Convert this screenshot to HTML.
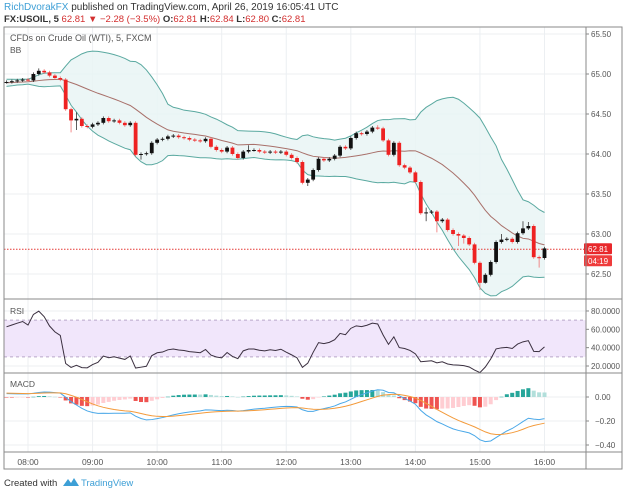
<!DOCTYPE html>
<html><head><meta charset="utf-8">
<style>
html,body{margin:0;padding:0;background:#fff;width:624px;height:493px;overflow:hidden;font-family:"Liberation Sans",sans-serif}
svg{position:absolute;left:0;top:0}
text{font-family:"Liberation Sans",sans-serif}
</style></head>
<body>
<svg id="c" width="624" height="493" viewBox="0 0 624 493">
  <text x="4" y="10" font-size="10"><tspan fill="#3d9fd6">RichDvorakFX</tspan><tspan fill="#333"> published on TradingView.com, April 26, 2019 16:05:41 UTC</tspan></text>
  <text x="4" y="22" font-size="9.5" fill="#333"><tspan font-weight="bold">FX:USOIL, 5</tspan><tspan fill="#d32f2f"> 62.81 ▼ −2.28 (−3.5%)</tspan><tspan font-weight="bold"> O:</tspan><tspan fill="#d32f2f">62.81</tspan><tspan font-weight="bold"> H:</tspan><tspan fill="#d32f2f">62.84</tspan><tspan font-weight="bold"> L:</tspan><tspan fill="#d32f2f">62.80</tspan><tspan font-weight="bold"> C:</tspan><tspan fill="#d32f2f">62.81</tspan></text>
  <defs>
    <clipPath id="mainClip"><rect x="4" y="27" width="582" height="272"/></clipPath>
    <clipPath id="rsiClip"><rect x="4" y="299" width="582" height="74"/></clipPath>
    <clipPath id="macdClip"><rect x="4" y="373" width="582" height="79"/></clipPath>
  </defs>
  <g id="grid"></g>
  <g id="main" clip-path="url(#mainClip)"></g>
  <g id="rsi" clip-path="url(#rsiClip)"></g>
  <g id="macd" clip-path="url(#macdClip)"></g>
  <g id="axes"></g>
  <rect x="4" y="27" width="618" height="442" fill="none" stroke="#8a8a8a" stroke-width="1"/>
  <line x1="586" y1="27" x2="586" y2="469" stroke="#8a8a8a"/>
  <line x1="4" y1="299" x2="622" y2="299" stroke="#8a8a8a"/>
  <line x1="4" y1="373" x2="622" y2="373" stroke="#8a8a8a"/>
  <line x1="4" y1="452" x2="622" y2="452" stroke="#8a8a8a"/>
  <text x="10" y="41" font-size="9" fill="#555">CFDs on Crude Oil (WTI), 5, FXCM</text>
  <text x="10" y="53" font-size="8.5" fill="#555">BB</text>
  <text x="10" y="314" font-size="8.5" fill="#555">RSI</text>
  <text x="10" y="387" font-size="8.5" fill="#555">MACD</text>
  <text x="4" y="486" font-size="9.5" fill="#333">Created with</text>
  <path d="M63 486 L68 479 L71 483 L74 478 L79 486 Z" fill="#3d9fd6"/>
  <text x="81" y="486" font-size="9.5" fill="#3d9fd6">TradingView</text>
</svg>
<script>
// ---- data ----
const warmup = [64.74,64.76,64.75,64.78,64.77,64.80,64.79,64.82,64.81,64.84,64.83,64.85,64.84,64.87,64.86,64.88,64.87,64.89,64.88,64.90,64.89,64.91,64.90,64.92,64.91,64.90,64.91,64.92,64.91,64.90];
const closes = [64.90,64.91,64.92,64.93,64.92,65.00,65.04,65.02,64.98,64.95,64.93,64.56,64.42,64.44,64.35,64.34,64.37,64.39,64.45,64.41,
64.42,64.39,64.36,64.39,63.99,64.00,64.01,64.14,64.18,64.19,64.22,64.23,64.21,64.20,64.18,64.17,64.16,64.19,64.09,64.05,
64.03,64.08,64.00,63.95,64.03,64.05,64.05,64.03,64.02,64.03,64.02,64.03,63.99,63.95,63.90,63.64,63.68,63.80,63.94,63.92,
63.94,63.98,64.09,64.07,64.20,64.26,64.25,64.28,64.33,64.32,64.17,63.99,64.14,63.86,63.83,63.77,63.65,63.26,63.27,63.28,
63.16,63.18,63.05,63.00,62.98,62.95,62.87,62.64,62.39,62.49,62.65,62.90,62.93,62.94,62.90,63.01,63.07,63.10,62.71,62.70,62.82];
const longWickLows = {12:64.27,13:64.30,25:63.93,56:63.60,78:63.16,80:63.02,84:62.85,85:62.88,88:62.30,89:62.38,99:62.58};
const longWickHighs = {6:65.07,13:64.52,45:64.11,69:64.36,78:63.33,92:63.00,96:63.16,97:63.15};
const priceTicks = [65.50,65.00,64.50,64.00,63.50,63.00,62.50];
const rsiTicks = [80,60,40,20];
const macdTicks = [0.00,-0.20,-0.40];
const timeLabels = ["08:00","09:00","10:00","11:00","12:00","13:00","14:00","15:00","16:00"];
const lastPrice = 62.81;

// ---- axes ----
const NS = "http://www.w3.org/2000/svg";
const xOf = i => 6.5 + 5.38 * i;
const yP = p => 154 - (p - 64) * 80;
const yR = v => 366 - (v - 20) * 0.917;
const yM = v => 397 - v * 120;
function mk(parent, tag, attrs){const e=document.createElementNS(NS,tag);for(const k in attrs)e.setAttribute(k,attrs[k]);parent.appendChild(e);return e;}
const gGrid=document.getElementById('grid'),gMain=document.getElementById('main'),gRsi=document.getElementById('rsi'),gMacd=document.getElementById('macd'),gAxes=document.getElementById('axes');

// grid + labels
timeLabels.forEach((t,k)=>{
  const x = xOf(4 + 12*k);
  const l = mk(gGrid,'line',{x1:x,y1:27,x2:x,y2:452,stroke:'#eceff2','stroke-width':1});
  
  
  const tx = mk(gAxes,'text',{x:x,y:465,'font-size':8.5,fill:'#555','text-anchor':'middle'});
  tx.textContent = t;
  
  
});
priceTicks.forEach(p=>{
  const y=yP(p);
  const l=mk(gGrid,'line',{x1:4,y1:y,x2:586,y2:y,stroke:'#eceff2'});
  
  
  mk(gAxes,'line',{x1:586,y1:y,x2:589,y2:y,stroke:'#888'});
  const t=mk(gAxes,'text',{x:591,y:y+3,'font-size':8,fill:'#555'});
  t.textContent=p.toFixed(2);
  
  
});
rsiTicks.forEach(v=>{
  const y=yR(v);
  const l=mk(gGrid,'line',{x1:4,y1:y,x2:586,y2:y,stroke:'#eceff2'});
  
  
  mk(gAxes,'line',{x1:586,y1:y,x2:589,y2:y,stroke:'#888'});
  const t=mk(gAxes,'text',{x:591,y:y+3,'font-size':8,fill:'#555'});
  t.textContent=v.toFixed(4);
  
  
});
macdTicks.forEach(v=>{
  const y=yM(v);
  const l=mk(gGrid,'line',{x1:4,y1:y,x2:586,y2:y,stroke:'#eceff2'});
  
  
  mk(gAxes,'line',{x1:586,y1:y,x2:589,y2:y,stroke:'#888'});
  const t=mk(gAxes,'text',{x:595,y:y+3,'font-size':8,fill:'#555'});
  t.textContent=(v===0?'0.00':v.toFixed(2).replace('-','−'));
  
  
});

// ---- indicators ----
const all = warmup.concat(closes);
const W = warmup.length, N = closes.length;
const up=[],mid=[],lo=[];
for(let i=0;i<N;i++){
  const j=W+i, s=all.slice(j-19,j+1);
  const m=s.reduce((a,b)=>a+b,0)/s.length;
  const sd=Math.sqrt(s.reduce((a,b)=>a+(b-m)*(b-m),0)/s.length);
  mid.push(m);up.push(m+2*sd);lo.push(m-2*sd);
}
// BB fill
let dFill='M'+xOf(0)+' '+yP(up[0]);
for(let i=1;i<N;i++) dFill+=' L'+xOf(i)+' '+yP(up[i]);
for(let i=N-1;i>=0;i--) dFill+=' L'+xOf(i)+' '+yP(lo[i]);
const bbFill=mk(gMain,'path',{d:dFill+'Z',fill:'#e9f5f5','fill-opacity':0.85});


function line(g,arr,yf,color,w){let d='';arr.forEach((v,i)=>{d+=(i?' L':'M')+xOf(i)+' '+yf(v);});return mk(g,'path',{d:d,fill:'none',stroke:color,'stroke-width':w});}
const bu=line(gMain,up,yP,'#5aa9a0',1);


const bl=line(gMain,lo,yP,'#5aa9a0',1);


const bm=line(gMain,mid,yP,'#a8706a',1);



// last price line
const lp=mk(gMain,'line',{x1:4,y1:yP(lastPrice),x2:586,y2:yP(lastPrice),stroke:'#e53935','stroke-dasharray':'1.5,1.5','stroke-width':1});



// candles
for(let i=0;i<N;i++){
  const o = i===0 ? warmup[W-1] : closes[i-1], c=closes[i];
  const isUp = c>=o;
  const col = isUp ? '#111' : '#ee2222';
  const hi = longWickHighs[i]!==undefined ? longWickHighs[i] : Math.max(o,c)+0.02;
  const lw = longWickLows[i]!==undefined ? longWickLows[i] : Math.min(o,c)-0.02;
  const x=xOf(i);
  const wk=mk(gMain,'line',{x1:x,y1:yP(hi),x2:x,y2:yP(lw),stroke:isUp?'#333':'#f07070','stroke-width':0.8});
  
  
  const top=yP(Math.max(o,c)), h=Math.max(1,yP(Math.min(o,c))-top);
  const b=mk(gMain,'rect',{x:x-1.9,y:top,width:3.8,height:h,fill:col});
  
  
}

// RSI band
const band=mk(gRsi,'rect',{x:4,y:yR(70),width:582,height:yR(30)-yR(70),fill:'#f1e6fb'});


[70,30].forEach(v=>{
  const l=mk(gRsi,'line',{x1:4,y1:yR(v),x2:586,y2:yR(v),stroke:'#b9a8c9','stroke-dasharray':'3,3'});
  
  
});
// RSI calc (Wilder 14)
const rsi=[];let ag=0,al=0;
for(let j=1;j<all.length;j++){
  const d=all[j]-all[j-1],g=Math.max(d,0),l=Math.max(-d,0);
  if(j<=14){ag+=g/14;al+=l/14;} else {ag=(ag*13+g)/14;al=(al*13+l)/14;}
  if(j>=W){rsi.push(al===0?100:100-100/(1+ag/al));}
}
const rl=line(gRsi,rsi,yR,'#3a2f3f',1);



// MACD
function ema(arr,n){const k=2/(n+1);const out=[arr[0]];for(let i=1;i<arr.length;i++)out.push(arr[i]*k+out[i-1]*(1-k));return out;}
const e12=ema(all,12),e26=ema(all,26);
const macdAll=e12.map((v,i)=>v-e26[i]);
const sigAll=ema(macdAll,9);
const macd=macdAll.slice(W),sig=sigAll.slice(W);
for(let i=0;i<N;i++){
  const h=macd[i]-sig[i], hp=(i===0?macdAll[W-1]-sigAll[W-1]:macd[i-1]-sig[i-1]);
  let col;
  if(h>=0) col = h>=hp ? '#26a69a' : '#b2dfdb'; else col = h<hp ? '#ef5350' : '#ffcdd2';
  const y0=yM(0),y1=yM(h);
  const r=mk(gMacd,'rect',{x:xOf(i)-2,y:Math.min(y0,y1),width:4,height:Math.max(0.5,Math.abs(y1-y0)),fill:col});
  
  
}
const ml=line(gMacd,macd,yM,'#4aa8e8',1);


const sl=line(gMacd,sig,yM,'#f39a3a',1);



// price labels
const yl=yP(lastPrice);
const pb=mk(gAxes,'rect',{x:584,y:yl-6,width:28,height:11,fill:'#e8282b',rx:1});


const pt=mk(gAxes,'text',{x:588,y:yl+3,'font-size':8,fill:'#fff'});
pt.textContent=lastPrice.toFixed(2);


const cb=mk(gAxes,'rect',{x:584,y:yl+6,width:28,height:11,fill:'#ef3b3b',rx:1});


const ct=mk(gAxes,'text',{x:588,y:yl+15,'font-size':8,fill:'#fff'});
ct.textContent='04:19';


</script>
</body></html>
